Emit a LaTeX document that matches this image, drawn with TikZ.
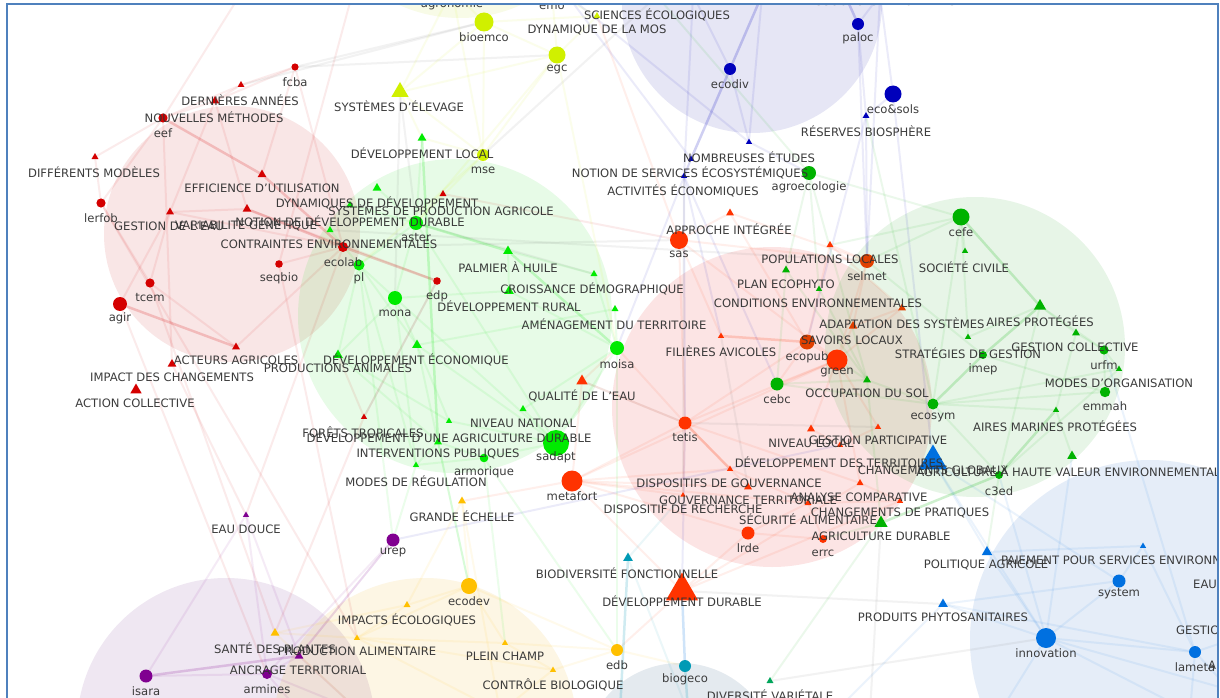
\documentclass[tikz,border=0pt]{standalone}
\usepackage{fontspec}
\setmainfont{DejaVu Sans}
\usetikzlibrary{shapes.geometric}
\definecolor{cR}{RGB}{212,0,0}
\definecolor{cG}{RGB}{0,235,0}
\definecolor{cD}{RGB}{0,178,0}
\definecolor{cO}{RGB}{255,51,0}
\definecolor{cS}{RGB}{224,64,0}
\definecolor{cB}{RGB}{0,0,187}
\definecolor{cY}{RGB}{208,240,0}
\definecolor{cP}{RGB}{128,0,144}
\definecolor{cA}{RGB}{255,192,0}
\definecolor{cT}{RGB}{0,154,181}
\definecolor{cL}{RGB}{0,112,224}
\definecolor{cV}{RGB}{0,165,90}
\definecolor{cK}{RGB}{90,90,90}
\definecolor{hR}{RGB}{200,20,20}
\definecolor{hG}{RGB}{30,222,30}
\definecolor{hB}{RGB}{20,20,165}
\definecolor{hO}{RGB}{235,5,5}
\definecolor{hD}{RGB}{30,165,30}
\definecolor{hL}{RGB}{13,88,197}
\definecolor{hP}{RGB}{105,30,138}
\definecolor{hA}{RGB}{238,172,5}
\definecolor{hT}{RGB}{0,63,113}
\definecolor{hY}{RGB}{190,220,30}
\definecolor{txt}{RGB}{50,50,50}
\definecolor{frame}{RGB}{79,129,189}
\pgfdeclarelayer{hulls}\pgfdeclarelayer{edges}\pgfdeclarelayer{labels}\pgfdeclarelayer{front}
\pgfsetlayers{hulls,edges,main,labels,front}
\tikzset{
 dot/.style={circle,inner sep=0pt,minimum size=#1*2pt,draw=none},
 tri/.style={regular polygon,regular polygon sides=3,inner sep=0pt,minimum size=#1*1pt,draw=none},
 lab/.style={font=\fontsize{11.6}{13}\selectfont,text=txt,inner sep=0pt,text opacity=.95},
 hull/.style={fill=#1,fill opacity=.105,draw=none},
 fe/.style={draw=#1,line width=2pt,opacity=.08},
 se/.style={draw=#1,line width=2.5pt,opacity=.19}
}
\newcommand\dn[7]{\node[dot=#4,fill=#5] (#1) at (#2,#3) {};
 \begin{pgfonlayer}{labels}\node[lab] (l#1) at (#2,#7) {#6};\end{pgfonlayer}}
\newcommand\tn[8]{\node[tri=#4,fill=#5] (#1) at (#2,#3) {};
 \begin{pgfonlayer}{labels}\node[lab] (l#1) at (#6,#7) {#8};\end{pgfonlayer}}
\newcommand\fe[2]{\foreach \a/\b in {#2}{\draw[fe=#1] (\a) -- (\b);}}
\newcommand\se[2]{\foreach \a/\b in {#2}{\draw[se=#1] (\a) -- (\b);}}
\begin{document}
\begin{tikzpicture}[x=1pt,y=-1pt]
\useasboundingbox (0,0) rectangle (1220,698);
\begin{pgfonlayer}{hulls}
\fill[white] (0,0) rectangle (1220,698);
\fill[hull=hR] (232,234) circle[radius=128pt];
\fill[hull=hG] (455,316) circle[radius=157pt];
\fill[hull=hB] (752,3) circle[radius=130pt];
\fill[hull=hO] (772,407) circle[radius=160pt];
\fill[hull=hD] (975,347) circle[radius=150pt];
\fill[hull=hL] (1150,640) circle[radius=180pt];
\fill[hull=hP] (226,727) circle[radius=149pt];
\fill[hull=hA] (425,730) circle[radius=152pt];
\fill[hull=hT] (680,760) circle[radius=97pt];
\fill[hull=hY] (460,-130) circle[radius=148pt];
\end{pgfonlayer}
% off-canvas ends
\foreach \n/\x/\y in {tA/240/-5,tB/352/-5,tC/567/-5,tD/693/-5,tE/762/-5,tF/845/-5,tG/880/-5,bA/620/712,bB/688/712,bC/835/712,bD/1000/712,bE/1190/712,bG/360/712,bH/500/712,bI/300/712,bJ/870/712,rA/1230/640,rB/1230/690,agron/452/-10,emon/552/-8,scie/657/-4}
  {\coordinate (\n) at (\x,\y);}
% red
\dn{fcba}{295}{67}{3.6}{cR}{fcba}{82}
\node[tri=8,fill=cR] (rtA) at (241,85) {};
\tn{dern}{215}{101}{10}{cR}{240}{100}{DERNIÈRES ANNÉES}
\dn{eef}{163}{118}{4.6}{cR}{eef}{133}
\begin{pgfonlayer}{labels}\node[lab] (lnm) at (214,117) {NOUVELLES MÉTHODES};\end{pgfonlayer}
\tn{difm}{95}{157}{8}{cR}{94}{172}{DIFFÉRENTS MODÈLES}
\tn{effi}{262}{174.500}{10}{cR}{262}{188}{EFFICIENCE D'UTILISATION}
\tn{vari}{247}{209}{10}{cR}{246}{225}{VARIABILITÉ GÉNÉTIQUE}
\tn{gest}{170}{212}{9}{cR}{169}{226}{GESTION DE L'EAU}
\dn{lerfob}{101}{203}{4.6}{cR}{lerfob}{218}
\dn{seqbio}{279}{264}{3.8}{cR}{seqbio}{278}
\dn{ecolab}{343}{247}{5}{cR}{ecolab}{262}
\dn{tcem}{150}{283}{4.6}{cR}{tcem}{298}
\dn{agir}{120}{304}{7}{cR}{agir}{318}
\tn{acte}{236}{347}{9}{cR}{236}{360}{ACTEURS AGRICOLES}
\tn{impa}{172}{364}{10}{cR}{172}{377}{IMPACT DES CHANGEMENTS}
\tn{acti}{136}{390}{13}{cR}{135}{403}{ACTION COLLECTIVE}
\dn{edp}{437}{281}{3.8}{cR}{edp}{296}
\tn{fore}{364}{417}{7}{cR}{363}{432}{FORÊTS TROPICALES}
\tn{syst}{443}{194}{8}{cR}{441}{210}{SYSTÈMES DE PRODUCTION AGRICOLE}
% bright green
\tn{deloc}{422}{138}{10}{cG}{422}{153}{DÉVELOPPEMENT LOCAL}
\tn{dyna}{377}{188}{10}{cG}{377}{203}{DYNAMIQUES DE DÉVELOPPEMENT}
\tn{noti}{350}{205}{8}{cG}{350}{221}{NOTION DE DÉVELOPPEMENT DURABLE}
\tn{contr}{330}{230}{8}{cG}{329}{244}{CONTRAINTES ENVIRONNEMENTALES}
\dn{aster}{416}{223}{7}{cG}{aster}{238}
\dn{pl}{359}{265}{5.5}{cG}{pl}{278}
\dn{mona}{395}{298}{7}{cG}{mona}{313}
\tn{palm}{508}{251}{11}{cG}{508}{267}{PALMIER À HUILE}
\tn{crois}{594}{274}{8}{cG}{592}{289}{CROISSANCE DÉMOGRAPHIQUE}
\tn{dru}{509}{291}{11}{cG}{509}{306}{DÉVELOPPEMENT RURAL}
\tn{amen}{615}{309}{8}{cG}{614}{324}{AMÉNAGEMENT DU TERRITOIRE}
\dn{moisa}{617}{348}{7}{cG}{moisa}{364}
\tn{deco}{417}{345}{11}{cG}{416}{360}{DÉVELOPPEMENT ÉCONOMIQUE}
\tn{pani}{338}{355}{11}{cG}{338}{368}{PRODUCTIONS ANIMALES}
\tn{nivn}{523}{409}{8}{cG}{523}{423}{NIVEAU NATIONAL}
\tn{dadu}{449}{421}{7}{cG}{449}{437}{DÉVELOPPEMENT D'UNE AGRICULTURE DURABLE}
\tn{inter}{438}{442}{9}{cG}{438}{454}{INTERVENTIONS PUBLIQUES}
\dn{armo}{484}{458}{4.3}{cG}{armorique}{472}
\tn{modr}{416}{465}{7}{cG}{416}{481}{MODES DE RÉGULATION}
\dn{sadapt}{556}{443}{13}{cG}{sadapt}{457}
% yellow-green
\dn{bioemco}{484}{22}{9.5}{cY}{bioemco}{37}
\dn{egc}{557}{55}{8.5}{cY}{egc}{69}
\dn{mse}{483}{155}{6}{cY}{mse}{170}
\tn{selv}{400}{92}{20}{cY}{399}{106}{SYSTÈMES D'ÉLEVAGE}
\tn{dmos}{597}{16}{8}{cY}{597}{30}{DYNAMIQUE DE LA MOS}
\begin{pgfonlayer}{labels}
\node[lab] (lagron) at (452,4) {agronomie};
\node[lab] (lemon) at (552,6) {emo};
\node[lab] (lscie) at (657,14.500) {SCIENCES ÉCOLOGIQUES};
\node[lab] (lress) at (878,1) {RESSOURCES NATURELLES};
\end{pgfonlayer}
% dark blue
\dn{ecodiv}{730}{69}{6}{cB}{ecodiv}{84}
\dn{paloc}{858}{24}{6}{cB}{paloc}{38}
\dn{ecosols}{893}{94}{8.5}{cB}{eco\&sols}{109}
\tn{rese}{866}{116}{8}{cB}{866}{131}{RÉSERVES BIOSPHÈRE}
\tn{nomb}{749}{142}{7}{cB}{749}{157}{NOMBREUSES ÉTUDES}
\tn{nser}{691}{159}{7}{cB}{690}{173}{NOTION DE SERVICES ÉCOSYSTÉMIQUES}
\tn{acec}{684}{176}{7}{cB}{683}{191}{ACTIVITÉS ÉCONOMIQUES}
% orange-red
\dn{sas}{679}{240}{9}{cO}{sas}{254}
\tn{appr}{730}{213}{9}{cO}{729}{229}{APPROCHE INTÉGRÉE}
\tn{popu}{830}{245}{8}{cO}{830}{259}{POPULATIONS LOCALES}
\dn{selmet}{867}{261}{7}{cS}{selmet}{276}
\tn{adap}{902}{308}{9}{cS}{902}{323}{ADAPTATION DES SYSTÈMES}
\tn{savo}{853}{326}{10}{cS}{852}{340}{SAVOIRS LOCAUX}
\tn{fili}{721}{336}{7}{cO}{721}{351}{FILIÈRES AVICOLES}
\dn{ecopub}{807}{342}{7.5}{cS}{ecopub}{357}
\dn{green}{837}{360}{10.500}{cO}{green}{372}
\tn{qual}{582}{381}{13}{cO}{582}{396}{QUALITÉ DE L'EAU}
\dn{tetis}{685}{423}{6.500}{cO}{tetis}{437}
\dn{metafort}{572}{481}{10.500}{cO}{metafort}{496}
\tn{nivl}{811}{429}{9}{cO}{811}{443}{NIVEAU LOCAL}
\tn{dterr}{840}{445}{7}{cO}{839}{462}{DÉVELOPPEMENT DES TERRITOIRES}
\tn{dgouv}{730}{469}{7}{cO}{729}{483}{DISPOSITIFS DE GOUVERNANCE}
\tn{gterr}{748}{487}{9}{cO}{748}{500}{GOUVERNANCE TERRITORIALE}
\tn{drech}{683}{495}{6}{cO}{683}{509}{DISPOSITIF DE RECHERCHE}
\tn{secu}{808}{503}{8}{cO}{808}{519}{SÉCURITÉ ALIMENTAIRE}
\tn{anac}{860}{483}{8}{cO}{859}{497}{ANALYSE COMPARATIVE}
\tn{chpr}{900}{501}{7}{cO}{900}{513}{CHANGEMENTS DE PRATIQUES}
\dn{errc}{823}{539}{4}{cO}{errc}{553}
\dn{lrde}{748}{533}{6.500}{cO}{lrde}{548}
\tn{gpart}{878}{427}{7}{cO}{878}{440}{GESTION PARTICIPATIVE}
\tn{devd}{682}{591}{37}{cO}{682}{601.500}{DÉVELOPPEMENT DURABLE}
% dark green
\dn{agroe}{809}{173}{7}{cD}{agroecologie}{187}
\dn{cefe}{961}{217}{8.500}{cD}{cefe}{232}
\tn{soc}{965}{251}{7}{cD}{964}{267}{SOCIÉTÉ CIVILE}
\tn{plan}{786}{270}{9}{cD}{786}{284}{PLAN ECOPHYTO}
\tn{cond}{819}{289}{7}{cD}{818}{303}{CONDITIONS ENVIRONNEMENTALES}
\tn{occ}{867}{380}{9}{cD}{867}{393}{OCCUPATION DU SOL}
\dn{cebc}{777}{384}{6.500}{cD}{cebc}{399}
\tn{stra}{968}{337}{7}{cD}{968}{353}{STRATÉGIES DE GESTION}
\dn{imep}{983}{355}{4}{cD}{imep}{369}
\tn{airp}{1040}{306}{14}{cD}{1040}{321}{AIRES PROTÉGÉES}
\tn{gcol}{1076}{333}{9}{cD}{1075}{347}{GESTION COLLECTIVE}
\dn{urfm}{1104}{350}{4.600}{cD}{urfm}{365}
\tn{modo}{1119}{369}{7}{cD}{1119}{383}{MODES D'ORGANISATION}
\dn{emmah}{1105}{392}{5.200}{cD}{emmah}{406}
\tn{airm}{1056}{410}{7}{cD}{1055}{426}{AIRES MARINES PROTÉGÉES}
\tn{zone}{1072}{456}{11}{cD}{1072}{471}{AGRICULTURE À HAUTE VALEUR ENVIRONNEMENTALE}
\dn{ecosym}{933}{404}{5.500}{cD}{ecosym}{417}
\dn{cthree}{999}{475}{4}{cD}{c3ed}{491}
\tn{agrd}{881}{523}{15}{cD}{881}{536}{AGRICULTURE DURABLE}
% light blue
\tn{agri}{933}{461}{33}{cL}{933}{470}{CHANGEMENTS GLOBAUX}
\tn{poli}{987}{552}{12}{cL}{986}{565}{POLITIQUE AGRICOLE}
\tn{paie}{1143}{546}{7}{cL}{1143}{560}{PAIEMENT POUR SERVICES ENVIRONNEMENTAUX}
\dn{system}{1119}{581}{6.500}{cL}{system}{594}
\tn{prodp}{943}{604}{11}{cL}{943}{617}{PRODUITS PHYTOSANITAIRES}
\dn{innov}{1046}{638}{10}{cL}{innovation}{653}
\dn{lameta}{1195}{652}{6}{cL}{lameta}{667}
\begin{pgfonlayer}{labels}
\node[lab,anchor=west] (leau) at (1193,584) {EAU};
\node[lab,anchor=west] (lgesn) at (1176,630) {GESTION};
\node[lab,anchor=west] (la) at (1208,665) {A};
\end{pgfonlayer}
% teal and others
\tn{biof}{628}{558}{11}{cT}{627}{573}{BIODIVERSITÉ FONCTIONNELLE}
\dn{biogeco}{685}{666}{6}{cT}{biogeco}{679}
\tn{divv}{770}{681}{8}{cV}{770}{695}{DIVERSITÉ VARIÉTALE}
% yellow-orange
\tn{gech}{462}{501}{9}{cA}{462}{516}{GRANDE ÉCHELLE}
\dn{ecodev}{469}{586}{8}{cA}{ecodev}{601}
\tn{impe}{407}{605}{8}{cA}{407}{620}{IMPACTS ÉCOLOGIQUES}
\tn{pali}{357}{638}{7}{cA}{357}{651}{PRODUCTION ALIMENTAIRE}
\tn{sante}{275}{633}{10}{cA}{275}{648}{SANTÉ DES PLANTES}
\tn{plein}{505}{643}{7}{cA}{505}{656}{PLEIN CHAMP}
\tn{ctrl}{553}{670}{7}{cA}{553}{685}{CONTRÔLE BIOLOGIQUE}
\dn{edb}{617}{650}{6}{cA}{edb}{665}
% purple
\tn{eaud}{246}{515}{7}{cP}{246}{529}{EAU DOUCE}
\dn{urep}{393}{540}{6.500}{cP}{urep}{552}
\tn{anc}{299}{656}{10}{cP}{298}{670}{ANCRAGE TERRITORIAL}
\dn{armines}{267}{674}{5}{cP}{armines}{689}
\dn{isara}{146}{676}{6.500}{cP}{isara}{691}
% connectors
\begin{pgfonlayer}{edges}
\fe{cR}{fcba/rtA,fcba/dern,rtA/dern,dern/eef,eef/difm,difm/lerfob,lerfob/eef,effi/fcba,gest/vari,gest/ecolab,gest/tcem,gest/agir,gest/dern,vari/dern,eef/impa,eef/tA,lerfob/tcem,lerfob/pali,agir/armines,tcem/sante,seqbio/ecolab,seqbio/pali,seqbio/tB,fcba/ecolab,acte/ecolab,tcem/acte,fore/edp,fore/pani,eaud/ecolab,fore/sante,impa/eaud,syst/sas,vari/edp,rtA/eef}
\se{cR}{eef/effi,effi/ecolab,vari/ecolab,agir/acte,ecolab/edp}
\fe{cK}{fcba/bioemco,rtA/bioemco,fcba/egc,selv/aster,selv/mona,scie/mse,contr/selmet,aster/crois,ecolab/sas,tetis/qual,agrd/bJ,prodp/devd,divv/innov,fore/edp,tetis/gpart,acec/drech,fili/gterr}
\se{cG}{aster/palm,palm/moisa,deloc/inter}
\fe{cG}{aster/pl,aster/mona,mona/pl,pl/contr,dyna/aster,noti/aster,deloc/aster,mona/deco,mona/pani,pl/pani,pl/deco,mona/sadapt,moisa/sadapt,moisa/dru,moisa/amen,moisa/crois,palm/dru,crois/palm,dru/mona,aster/sadapt,pani/dadu,deco/dadu,deco/sadapt,inter/armo,armo/sadapt,dadu/sadapt,nivn/sadapt,nivn/moisa,modr/inter,modr/armo,pani/inter,modr/urep,mona/modr,pl/modr,armo/edb,armo/plein,inter/ecodev,deco/ecodev,pl/urep,moisa/edb,amen/deco}
\fe{cY}{mse/egc,mse/bioemco,mse/selv,mse/deloc,mse/aster,selv/bioemco,bioemco/egc,bioemco/dmos,egc/dmos,selv/agron,emon/dmos,agron/bioemco,egc/moisa,egc/aster,mse/pl,deloc/selv,selv/egc,agron/mse,emon/egc}
\fe{cO}{sas/appr,sas/tetis,sas/selmet,sas/green,appr/selmet,appr/ecopub,sas/fili,tetis/gterr,tetis/anac,tetis/metafort,tetis/green,tetis/ecopub,tetis/drech,metafort/dgouv,metafort/gterr,metafort/drech,metafort/secu,metafort/lrde,metafort/qual,qual/tetis,moisa/tetis,lrde/devd,lrde/secu,lrde/errc,errc/secu,devd/anac,devd/metafort,devd/edb,devd/chpr,ecopub/green,green/savo,savo/adap,adap/popu,popu/selmet,popu/ecopub,adap/green,nivl/dterr,dterr/gpart,green/gpart,green/nivl,green/anac,dgouv/secu,chpr/anac,secu/chpr,cebc/green,cebc/ecopub,dmos/sas,qual/moisa,metafort/green,selmet/green,savo/selmet,gech/metafort}
\se{cO}{tetis/dgouv,fili/ecopub}
\fe{cD}{agroe/cefe,agroe/occ,cefe/popu,cefe/selmet,cefe/soc,cefe/ecosym,airp/gcol,gcol/urfm,airp/urfm,stra/airp,stra/cefe,ecosym/modo,ecosym/airm,ecosym/cthree,modo/cthree,modo/urfm,emmah/imep,emmah/ecosym,airm/zone,airm/gcol,cthree/poli,agrd/occ,plan/cebc,plan/occ,cond/occ,occ/ecosym,occ/green,cebc/occ,cebc/ecosym,agrd/divv,scie/agroe,rese/ecosym,cond/agroe,urfm/emmah,airp/cthree,plan/agroe,agrd/errc,selmet/imep}
\se{cD}{cefe/airp,airp/imep,imep/ecosym,airm/cthree,cthree/agrd}
\se{cB}{ecodiv/nser,ecodiv/tE,paloc/tF}
\fe{cB}{ecodiv/nomb,ecodiv/tD,paloc/rese,paloc/tG,ecosols/rese,ecosols/tG,ecosols/agri,nomb/tC,nomb/agroe,nser/acec,acec/tD,acec/cebc,acec/tetis,tE/nomb,rese/selmet,paloc/selmet,rese/ecopub,nser/tC,acec/fili,urep/dterr,moisa/nser,tG/selmet}
\fe{cL}{agri/poli,agri/system,poli/innov,poli/paie,paie/system,paie/lameta,system/innov,system/prodp,prodp/innov,prodp/lameta,innov/lameta,innov/rB,lameta/rA,lameta/rB,innov/bD,prodp/bC,lameta/bE,cthree/innov,agri/innov,innov/bE,urfm/lameta,zone/innov}
\se{cP}{isara/anc}
\fe{cP}{isara/armines,isara/eaud,armines/eaud,anc/eaud,anc/urep,armines/urep,armines/anc,armines/bI,anc/bG,anc/urep,armines/bG}
\fe{cA}{sante/pali,sante/impe,sante/bG,impe/ecodev,impe/pali,pali/plein,pali/ecodev,ecodev/plein,plein/ctrl,ctrl/edb,edb/plein,gech/ecodev,gech/impe,gech/bH,ecodev/edb,pali/ctrl,pali/bH,edb/biogeco,ctrl/bH}
\se{cT}{biof/bA,biogeco/bB}
\se{cL}{biogeco/devd}
\fe{cB}{tetis/devd}
\fe{cT}{biof/drech,biof/bB}
\end{pgfonlayer}
% what lies outside the frame is hidden, then the frame
\begin{pgfonlayer}{front}
\fill[white] (0,0) rectangle (1220,4);
\fill[white] (0,0) rectangle (7,698);
\fill[white] (1218,0) rectangle (1220,698);
\draw[frame,line width=2pt] (7,715) -- (7,4.500) -- (1218,4.500) -- (1218,715);
\end{pgfonlayer}
\end{tikzpicture}
\end{document}
